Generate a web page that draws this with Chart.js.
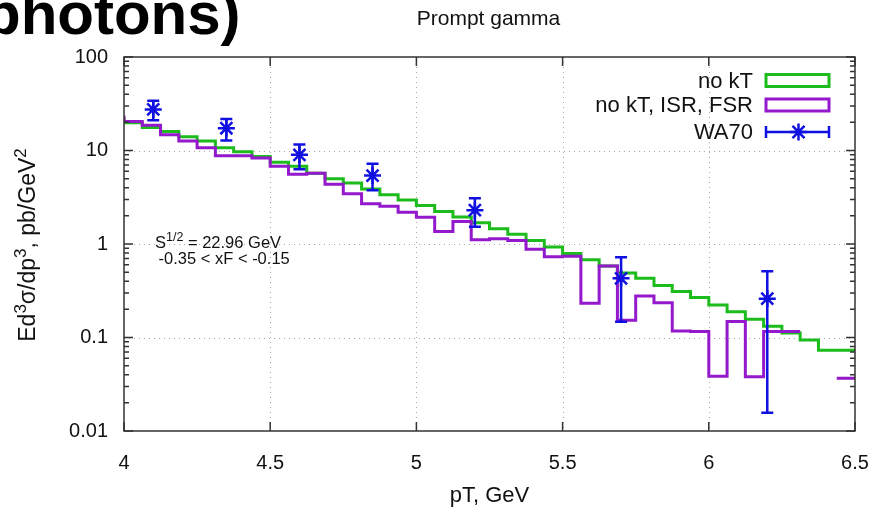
<!DOCTYPE html>
<html><head><meta charset="utf-8">
<script src="https://cdn.jsdelivr.net/npm/chart.js@4/dist/chart.umd.min.js"></script>
<style>
html,body{margin:0;padding:0;background:#fff;overflow:hidden;}
#wrap{position:relative;width:876px;height:510px;overflow:hidden;}
#big{position:absolute;left:-16px;top:-16px;font:bold 60px "Liberation Sans",Arial,sans-serif;line-height:60px;color:#000;white-space:nowrap;z-index:2}
canvas{position:absolute;left:0;top:0}
</style></head><body>
<div id="wrap"><canvas id="c" width="876" height="510"></canvas><div id="big">photons)</div></div>
<script>
// ---- data ----
const binEdges = [4.0, 4.0625, 4.125, 4.1875, 4.25, 4.3125, 4.375, 4.4375, 4.5, 4.5625,
  4.625, 4.6875, 4.75, 4.8125, 4.875, 4.9375, 5.0, 5.0625, 5.125, 5.1875,
  5.25, 5.3125, 5.375, 5.4375, 5.5, 5.5625, 5.625, 5.6875, 5.75, 5.8125,
  5.875, 5.9375, 6.0, 6.0625, 6.125, 6.1875, 6.25, 6.3125, 6.375, 6.4375, 6.5];
const noKT = [22.4, 19.8, 17.6, 16.0, 14.0, 12.6, 10.7, 9.7, 8.6, 7.5,
  6.8, 5.7, 5.0, 4.5, 3.87, 3.37, 2.95, 2.58, 2.23, 1.95,
  1.69, 1.46, 1.27, 1.09, 0.93, 0.79, 0.68, 0.58, 0.49, 0.43,
  0.36, 0.31, 0.267, 0.223, 0.189, 0.157, 0.132, 0.112, 0.094, 0.073];
const noKTisrFsr = [23.7, 20.4, 18.6, 14.7, 12.6, 10.7, 8.8, 8.8, 8.3, 6.8,
  5.56, 5.7, 4.35, 3.45, 2.7, 2.54, 2.18, 1.93, 1.36, 1.74,
  1.11, 1.14, 1.09, 0.88, 0.73, 0.74, 0.232, 0.58, 0.153, 0.278,
  0.236, 0.117, 0.116, 0.0385, 0.148, 0.038, 0.116, null, null, 0.0366];
const wa70X  = [4.1, 4.35, 4.6, 4.85, 5.2, 5.7, 6.2];
const wa70Y  = [27.5, 17.3, 9.0, 5.4, 2.3, 0.43, 0.26];
const wa70Lo = [21, 12.8, 6.3, 3.75, 1.53, 0.147, 0.0157];
const wa70Hi = [34, 21.7, 11.6, 7.2, 3.08, 0.72, 0.51];
const xTicks = [4, 4.5, 5, 5.5, 6, 6.5];
const xTickLabels = ['4', '4.5', '5', '5.5', '6', '6.5'];
const yTicks = [0.01, 0.1, 1, 10, 100];
const yTickLabels = ['0.01', '0.1', '1', '10', '100'];
const seriesNames = ['no kT', 'no kT, ISR, FSR', 'WA70'];
const chartTitle = 'Prompt gamma';

const GREEN = '#1cbc1c', PURPLE = '#9418cc', BLUE = '#1010e0';
const FONT = '"Liberation Sans", Arial, sans-serif';

function histPoints(edges, vals) {
  const pts = [];
  for (let i = 0; i < vals.length; i++) {
    const v = vals[i];
    if (v == null) { pts.push({x: edges[i], y: null}); continue; }
    pts.push({x: edges[i], y: v});
    if (i === vals.length - 1 || vals[i + 1] == null) pts.push({x: edges[i + 1], y: v});
  }
  return pts;
}

function supText(ctx, parts, x, y, size, supSize, raise) {
  let tx = x;
  parts.forEach(([t, sup]) => {
    ctx.font = (sup ? supSize : size) + 'px ' + FONT;
    ctx.fillText(t, tx, sup ? y - raise : y);
    tx += ctx.measureText(t).width;
  });
  return tx - x;
}
function supWidth(ctx, parts, size, supSize) {
  let w = 0;
  parts.forEach(([t, sup]) => { ctx.font = (sup ? supSize : size) + 'px ' + FONT; w += ctx.measureText(t).width; });
  return w;
}

const deco = {
  id: 'deco',
  beforeDatasetsDraw(chart) {
    const {ctx, chartArea: a, scales: {x, y}} = chart;
    ctx.save();
    ctx.strokeStyle = '#a8a8a8'; ctx.lineWidth = 1; ctx.setLineDash([1, 4]);
    xTicks.slice(1, -1).forEach(v => {
      const px = Math.round(x.getPixelForValue(v)) + 0.5;
      ctx.beginPath(); ctx.moveTo(px, a.top); ctx.lineTo(px, a.bottom); ctx.stroke();
    });
    yTicks.slice(1, -1).forEach(v => {
      const py = Math.round(y.getPixelForValue(v)) + 0.5;
      ctx.beginPath(); ctx.moveTo(a.left, py); ctx.lineTo(a.right, py); ctx.stroke();
    });
    ctx.restore();
  },
  afterDatasetsDraw(chart) {
    const {ctx, chartArea: a, scales: {x, y}} = chart;
    ctx.save();
    // error bars
    ctx.strokeStyle = BLUE; ctx.lineWidth = 2.5;
    for (let i = 0; i < wa70X.length; i++) {
      const px = x.getPixelForValue(wa70X[i]);
      const lo = y.getPixelForValue(wa70Lo[i]), hi = y.getPixelForValue(wa70Hi[i]);
      ctx.beginPath();
      ctx.moveTo(px, lo); ctx.lineTo(px, hi);
      ctx.moveTo(px - 6, lo); ctx.lineTo(px + 6, lo);
      ctx.moveTo(px - 6, hi); ctx.lineTo(px + 6, hi);
      ctx.stroke();
    }
    // border and ticks
    ctx.strokeStyle = '#333'; ctx.lineWidth = 1.5;
    ctx.strokeRect(a.left, a.top, a.right - a.left, a.bottom - a.top);
    ctx.beginPath();
    xTicks.forEach(v => {
      const px = x.getPixelForValue(v);
      ctx.moveTo(px, a.bottom); ctx.lineTo(px, a.bottom - 9);
      ctx.moveTo(px, a.top); ctx.lineTo(px, a.top + 9);
    });
    yTicks.forEach((d, k) => {
      const py = y.getPixelForValue(d);
      ctx.moveTo(a.left, py); ctx.lineTo(a.left + 9, py);
      ctx.moveTo(a.right, py); ctx.lineTo(a.right - 9, py);
      if (k < yTicks.length - 1) {
        for (let m = 2; m <= 9; m++) {
          const pm = y.getPixelForValue(d * m);
          ctx.moveTo(a.left, pm); ctx.lineTo(a.left + 5, pm);
          ctx.moveTo(a.right, pm); ctx.lineTo(a.right - 5, pm);
        }
      }
    });
    ctx.stroke();
    ctx.fillStyle = '#111';
    // title
    ctx.font = '21px ' + FONT; ctx.textAlign = 'center'; ctx.textBaseline = 'middle';
    ctx.fillText(chartTitle, (a.left + a.right) / 2 - 1, a.top - 38);
    // y-axis title
    const yParts = [['Ed', 0], ['3', 1], ['σ/dp', 0], ['3', 1], [', pb/GeV', 0], ['2', 1]];
    ctx.save();
    ctx.textAlign = 'left'; ctx.textBaseline = 'alphabetic';
    const w = supWidth(ctx, yParts, 23, 17);
    ctx.translate(35, (a.top + a.bottom) / 2 + 1);
    ctx.rotate(-Math.PI / 2);
    supText(ctx, yParts, -w / 2, 0, 23, 17, 9);
    ctx.restore();
    // annotation
    ctx.textBaseline = 'alphabetic'; ctx.textAlign = 'left';
    const ax = a.left + 31, ay = a.top + 191;
    supText(ctx, [['S', 0], ['1/2', 1], [' = 22.96 GeV', 0]], ax, ay, 16.5, 12.5, 7);
    ctx.font = '16.5px ' + FONT;
    ctx.fillText(' -0.35 < xF < -0.15', ax - 1, ay + 16);
    // legend
    ctx.font = '22px ' + FONT; ctx.textAlign = 'right'; ctx.textBaseline = 'middle';
    const tr = a.right - 102, b0 = a.right - 89, b1 = a.right - 26;
    const rows = [a.top + 23.5, a.top + 48, a.top + 75];
    seriesNames.forEach((n, i) => ctx.fillText(n, tr, rows[i] + 1));
    ctx.lineWidth = 3;
    ctx.strokeStyle = GREEN; ctx.strokeRect(b0, rows[0] - 6, b1 - b0, 12);
    ctx.strokeStyle = PURPLE; ctx.strokeRect(b0, rows[1] - 6, b1 - b0, 12);
    ctx.strokeStyle = BLUE; ctx.lineWidth = 2.5;
    ctx.beginPath();
    ctx.moveTo(b0, rows[2]); ctx.lineTo(b1, rows[2]);
    ctx.moveTo(b0, rows[2] - 6); ctx.lineTo(b0, rows[2] + 6);
    ctx.moveTo(b1, rows[2] - 6); ctx.lineTo(b1, rows[2] + 6);
    ctx.stroke();
    Chart.helpers.drawPoint(ctx, {pointStyle: 'star', radius: 8.5, borderWidth: 2.5}, (b0 + b1) / 2 + 1, rows[2]);
    ctx.restore();
  }
};

new Chart(document.getElementById('c'), {
  type: 'line',
  data: {
    datasets: [
      {label: seriesNames[2], type: 'scatter', order: 0,
       data: wa70X.map((v, i) => ({x: v, y: wa70Y[i]})),
       showLine: false, pointStyle: 'star', pointRadius: 8.5, pointBorderWidth: 2.5,
       borderColor: BLUE, backgroundColor: BLUE},
      {label: seriesNames[1], order: 1, data: histPoints(binEdges, noKTisrFsr),
       stepped: 'after', borderColor: PURPLE, borderWidth: 3, pointRadius: 0, spanGaps: false, fill: false},
      {label: seriesNames[0], order: 2, data: histPoints(binEdges, noKT),
       stepped: 'after', borderColor: GREEN, borderWidth: 3, pointRadius: 0, spanGaps: false, fill: false}
    ]
  },
  options: {
    responsive: false, animation: false, devicePixelRatio: 1,
    layout: {padding: {top: 57, right: 21, left: 0, bottom: 0}},
    plugins: {legend: {display: false}, tooltip: {enabled: false}, title: {display: false}},
    scales: {
      x: {type: 'linear', min: 4, max: 6.5,
          afterBuildTicks: s => { s.ticks = xTicks.map(v => ({value: v})); },
          afterFit: s => { s.height = 79; s.paddingLeft = 0; s.paddingRight = 0; },
          grid: {display: false, drawTicks: false}, border: {display: false},
          ticks: {callback: (v, i) => xTickLabels[i], color: '#111', padding: 20, maxRotation: 0,
                  font: {family: FONT, size: 20}},
          title: {display: true, text: 'pT, GeV', color: '#111', font: {family: FONT, size: 22},
                  padding: {top: 0, bottom: 1}}},
      y: {type: 'logarithmic', min: 0.01, max: 100,
          afterBuildTicks: s => { s.ticks = yTicks.map(v => ({value: v})); },
          afterFit: s => { s.width = 124; s.paddingTop = 0; s.paddingBottom = 0; },
          grid: {display: false, drawTicks: false}, border: {display: false},
          ticks: {callback: (v, i) => yTickLabels[i], color: '#111', padding: 16,
                  font: {family: FONT, size: 20}},
          title: {display: false}}
    }
  },
  plugins: [deco]
});
</script>
</body></html>
